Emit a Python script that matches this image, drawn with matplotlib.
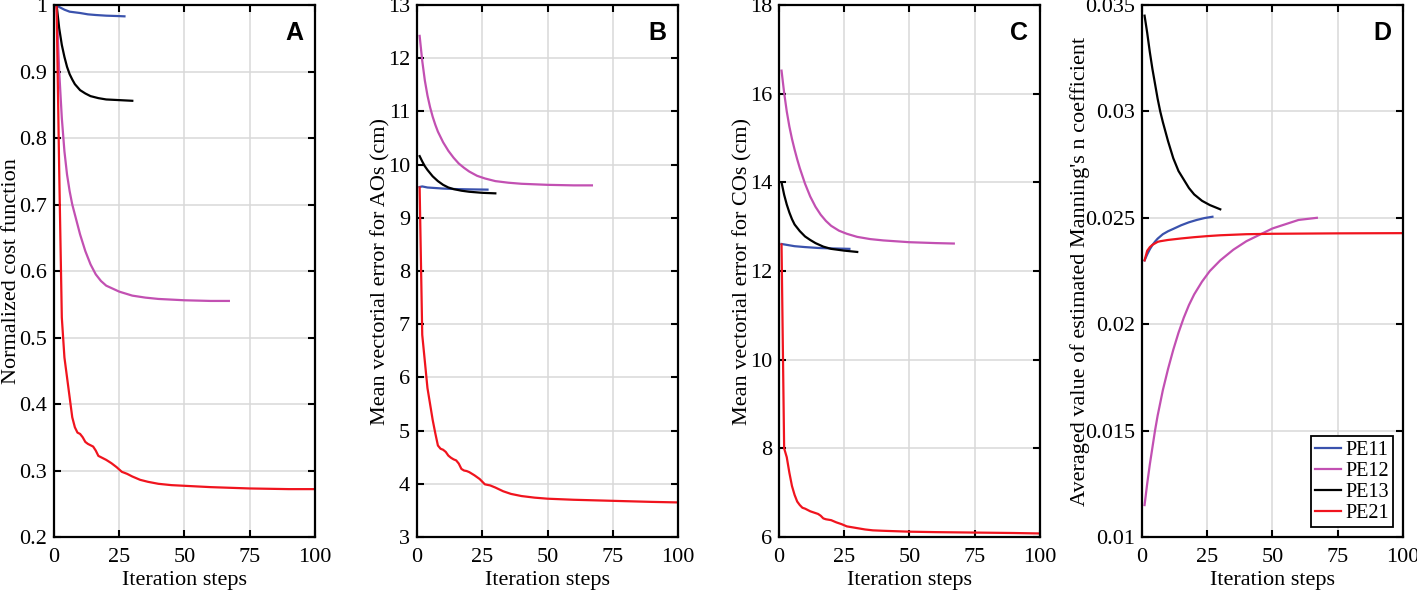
import matplotlib.pyplot as plt
from matplotlib.ticker import FuncFormatter

plt.rcParams['font.family'] = ['Liberation Serif', 'DejaVu Serif']
plt.rcParams['font.size'] = 16

# colours of the four experiments
c11 = '#3a52ad'
c12 = '#c250b2'
c13 = '#000000'
c21 = '#f0141e'

# ---- panel A: normalized cost function ----
a11_x = [1, 2, 3, 4, 6, 8, 10, 13, 16, 20, 24, 27]
a11_y = [1.0, 0.997, 0.995, 0.993, 0.990, 0.989, 0.988, 0.986, 0.985, 0.984, 0.9835, 0.983]
a12_x = [1, 2, 3, 4, 5, 6, 7, 8, 10, 12, 14, 16, 18, 20, 25, 30, 35, 40, 50, 60, 67]
a12_y = [1.0, 0.90, 0.83, 0.78, 0.745, 0.72, 0.70, 0.685, 0.655, 0.630, 0.610, 0.595,
         0.585, 0.578, 0.569, 0.563, 0.560, 0.558, 0.556, 0.555, 0.555]
a13_x = [1, 2, 3, 4, 5, 6, 7, 8, 10, 12, 14, 17, 20, 25, 30]
a13_y = [1.0, 0.965, 0.940, 0.922, 0.907, 0.896, 0.888, 0.881, 0.872, 0.867, 0.863,
         0.860, 0.858, 0.857, 0.856]
a21_x = [1, 2, 3, 4, 5, 6, 7, 8, 9, 10, 11, 12, 13, 14, 15, 16, 17, 18, 19, 20, 22, 24,
         26, 28, 30, 33, 36, 40, 45, 50, 60, 75, 90, 100]
a21_y = [1.0, 0.75, 0.53, 0.47, 0.44, 0.41, 0.38, 0.365, 0.357, 0.355, 0.350, 0.343,
         0.340, 0.338, 0.336, 0.330, 0.322, 0.320, 0.318, 0.316, 0.311, 0.305, 0.298,
         0.295, 0.291, 0.286, 0.283, 0.280, 0.278, 0.277, 0.275, 0.273, 0.272, 0.272]

# ---- panel B: mean vectorial error for AOs (cm) ----
b11_x = [1, 2, 4, 7, 10, 15, 20, 27]
b11_y = [9.58, 9.59, 9.57, 9.56, 9.55, 9.54, 9.535, 9.53]
b12_x = [1, 2, 3, 4, 5, 6, 7, 8, 10, 12, 14, 16, 18, 20, 23, 26, 30, 35, 40, 50, 60, 67]
b12_y = [12.42, 11.95, 11.58, 11.3, 11.08, 10.9, 10.75, 10.62, 10.42, 10.26, 10.13, 10.02,
         9.94, 9.87, 9.79, 9.74, 9.69, 9.66, 9.64, 9.62, 9.61, 9.61]
b13_x = [1, 2, 3, 4, 5, 6, 8, 10, 12, 14, 17, 20, 25, 30]
b13_y = [10.16, 10.06, 9.97, 9.90, 9.84, 9.78, 9.69, 9.62, 9.57, 9.54, 9.51, 9.49, 9.47, 9.46]
b21_x = [1, 2, 3, 4, 5, 6, 7, 8, 9, 10, 11, 12, 13, 14, 15, 16, 17, 18, 19, 20, 22, 24,
         26, 28, 30, 33, 36, 40, 45, 50, 60, 75, 90, 100]
b21_y = [9.57, 6.8, 6.3, 5.8, 5.5, 5.2, 4.95, 4.72, 4.66, 4.64, 4.60, 4.53, 4.49, 4.46,
         4.44, 4.38, 4.28, 4.25, 4.24, 4.22, 4.16, 4.09, 3.99, 3.97, 3.93, 3.86, 3.81,
         3.77, 3.74, 3.72, 3.70, 3.68, 3.66, 3.65]

# ---- panel C: mean vectorial error for COs (cm) ----
c11_x = [1, 3, 6, 10, 15, 20, 27]
c11_y = [12.61, 12.59, 12.56, 12.54, 12.52, 12.51, 12.50]
c12_x = [1, 2, 3, 4, 5, 6, 7, 8, 10, 12, 14, 16, 18, 20, 23, 26, 30, 35, 40, 50, 60, 67]
c12_y = [16.52, 16.02, 15.6, 15.26, 14.98, 14.74, 14.52, 14.32, 13.97, 13.68, 13.45, 13.27,
         13.13, 13.02, 12.91, 12.84, 12.77, 12.72, 12.69, 12.65, 12.63, 12.62]
c13_x = [1, 2, 3, 4, 5, 6, 8, 10, 12, 14, 17, 20, 25, 30]
c13_y = [14.0, 13.72, 13.5, 13.32, 13.17, 13.05, 12.9, 12.78, 12.7, 12.63, 12.55, 12.5,
         12.46, 12.43]
c21_x = [1, 2, 3, 4, 5, 6, 7, 8, 9, 10, 12, 14, 15, 16, 17, 18, 20, 22, 24, 26, 28, 30,
         33, 36, 40, 50, 60, 75, 90, 100]
c21_y = [12.6, 8.0, 7.8, 7.45, 7.15, 6.95, 6.8, 6.72, 6.66, 6.64, 6.58, 6.54, 6.52, 6.48,
         6.42, 6.40, 6.38, 6.33, 6.29, 6.24, 6.22, 6.20, 6.17, 6.15, 6.14, 6.12, 6.11,
         6.10, 6.09, 6.08]

# ---- panel D: averaged Manning's n ----
d11_x = [1, 2, 3, 4, 5, 6, 8, 10, 12, 15, 18, 21, 24, 27]
d11_y = [0.0230, 0.02328, 0.02352, 0.02372, 0.02388, 0.02402, 0.02423, 0.02437, 0.02448,
         0.02465, 0.02479, 0.0249, 0.02499, 0.02505]
d12_x = [1, 2, 3, 4, 5, 6, 7, 8, 10, 12, 14, 16, 18, 20, 23, 26, 30, 35, 40, 45, 50, 55,
         60, 67]
d12_y = [0.0115, 0.0125, 0.0134, 0.0142, 0.0150, 0.0157, 0.0163, 0.0169, 0.0179, 0.0188,
         0.0196, 0.0203, 0.0209, 0.0214, 0.0220, 0.0225, 0.0230, 0.0235, 0.0239, 0.0242,
         0.0245, 0.0247, 0.0249, 0.0250]
d13_x = [1, 2, 3, 4, 5, 6, 7, 8, 10, 12, 14, 16, 18, 20, 23, 26, 30]
d13_y = [0.0345, 0.0337, 0.0328, 0.0320, 0.0313, 0.0306, 0.0300, 0.0295, 0.0286, 0.0278,
         0.0272, 0.0268, 0.0264, 0.0261, 0.0258, 0.0256, 0.0254]
d21_x = [1, 2, 3, 4, 5, 6, 7, 8, 10, 15, 20, 25, 30, 40, 50, 75, 100]
d21_y = [0.0230, 0.02345, 0.02362, 0.02373, 0.0238, 0.02387, 0.0239, 0.02392, 0.02396,
         0.02403, 0.02409, 0.02414, 0.02418, 0.02423, 0.02425, 0.02427, 0.02428]

labels = ['PE11', 'PE12', 'PE13', 'PE21']
colors = [c11, c12, c13, c21]

panels = [
    ('A', 'Normalized cost function', (0.2, 1.0), [0.2, 0.3, 0.4, 0.5, 0.6, 0.7, 0.8, 0.9, 1.0],
     [(a11_x, a11_y), (a12_x, a12_y), (a13_x, a13_y), (a21_x, a21_y)]),
    ('B', 'Mean vectorial error for AOs (cm)', (3, 13), list(range(3, 14)),
     [(b11_x, b11_y), (b12_x, b12_y), (b13_x, b13_y), (b21_x, b21_y)]),
    ('C', 'Mean vectorial error for COs (cm)', (6, 18), [6, 8, 10, 12, 14, 16, 18],
     [(c11_x, c11_y), (c12_x, c12_y), (c13_x, c13_y), (c21_x, c21_y)]),
    ('D', "Averaged value of estimated Manning's n coefficient", (0.01, 0.035),
     [0.01, 0.015, 0.02, 0.025, 0.03, 0.035],
     [(d11_x, d11_y), (d12_x, d12_y), (d13_x, d13_y), (d21_x, d21_y)]),
]

lefts = [0.0381, 0.2943, 0.5497, 0.8059]
# where each y label sits, in axes fraction
ylab_x = [-0.126, -0.103, -0.103, -0.2]

fig = plt.figure(figsize=(14.17, 5.92), dpi=100)

for i, (tag, ylab, ylim, yt, series) in enumerate(panels):
    ax = fig.add_axes([lefts[i], 0.0929, 0.1842, 0.8986])
    for (x, y), col, lab in zip(series, colors, labels):
        ax.plot(x, y, color=col, lw=1.6, label=lab)
    ax.set_xlim(0, 100)
    ax.set_ylim(*ylim)
    ax.set_xticks([0, 25, 50, 75, 100])
    ax.set_yticks(yt)
    ax.yaxis.set_major_formatter(FuncFormatter(lambda v, p: '%g' % round(v, 4)))
    ax.grid(True, color='#d9d9d9', lw=1.1)
    ax.set_axisbelow(True)
    ax.tick_params(direction='in', length=5, width=1.5, top=True, right=True)
    ax.tick_params(axis='x', pad=8)
    ax.tick_params(axis='y', pad=5)
    for sp in ax.spines.values():
        sp.set_linewidth(1.6)
    ax.set_xlabel('Iteration steps', labelpad=3)
    ax.set_ylabel(ylab)
    ax.yaxis.set_label_coords(ylab_x[i], 0.5)
    ax.text(0.955, 0.947, tag, transform=ax.transAxes, ha='right', va='center',
            fontsize=18, fontweight='bold', family='Liberation Sans')
    if tag == 'D':
        leg = ax.legend(loc='lower right', fancybox=False, edgecolor='black',
                        framealpha=1, handlelength=1.3, handletextpad=0.2,
                        borderpad=0.2, labelspacing=0.1, borderaxespad=0.5,
                        fontsize=14.5)
        leg.get_frame().set_linewidth(1.3)

fig.savefig('out.png', dpi=100)
